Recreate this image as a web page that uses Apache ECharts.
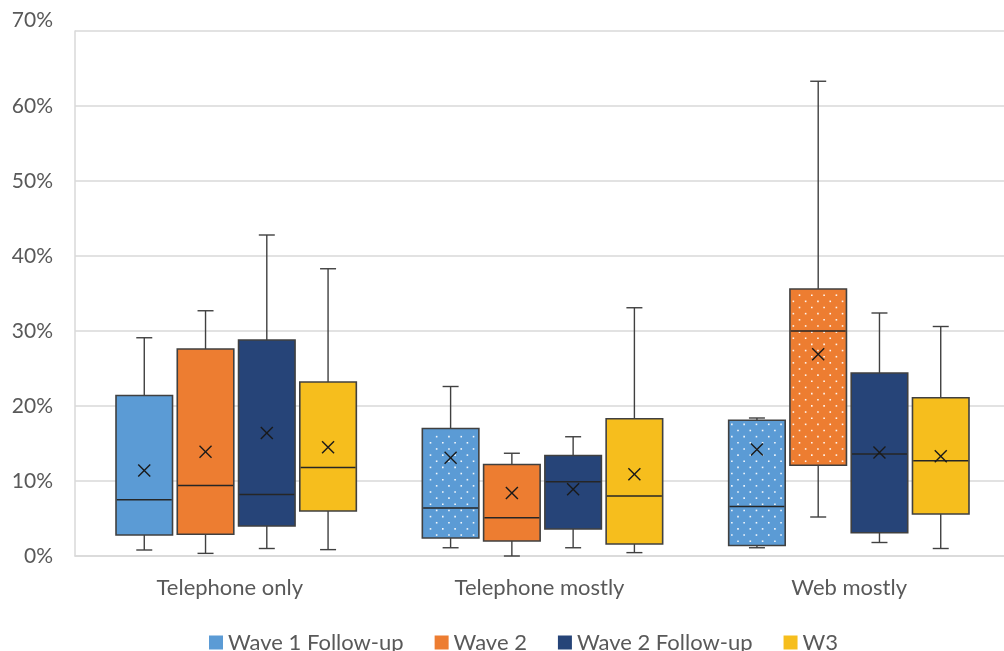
<!DOCTYPE html>
<html>
<head>
<meta charset="utf-8">
<title>Box plots by mode and wave</title>
<script src="https://cdn.jsdelivr.net/npm/echarts@6/dist/echarts.min.js"></script>
<style>
  html, body { margin: 0; padding: 0; background: #ffffff; }
  #chart { width: 1004px; height: 651px; }
</style>
</head>
<body>
<div id="chart"></div>
<script>
// Categories along the x axis
const categories = ['Telephone only', 'Telephone mostly', 'Web mostly'];
const seriesNames = ['Wave 1 Follow-up', 'Wave 2', 'Wave 2 Follow-up', 'W3'];
const yTicks = [0, 10, 20, 30, 40, 50, 60, 70];

// Five-number summaries in percent: [min, q1, median, q3, max] per category
const wave1Follow = [[0.8, 2.8, 7.5, 21.4, 29.1], [1.1, 2.4, 6.4, 17.0, 22.6], [1.1, 1.4, 6.6, 18.1, 18.4]];
const wave2       = [[0.35, 2.9, 9.4, 27.6, 32.7], [0.0, 2.0, 5.1, 12.2, 13.7], [5.2, 12.1, 30.0, 35.6, 63.3]];
const wave2Follow = [[1.0, 4.0, 8.2, 28.8, 42.8], [1.1, 3.6, 9.9, 13.4, 15.9], [1.8, 3.1, 13.6, 24.4, 32.4]];
const w3          = [[0.85, 6.0, 11.8, 23.2, 38.3], [0.45, 1.6, 8.0, 18.3, 33.1], [1.0, 5.6, 12.7, 21.1, 30.6]];

// Means in percent per category
const wave1FollowMean = [11.4, 13.1, 14.2];
const wave2Mean       = [13.9, 8.4, 26.9];
const wave2FollowMean = [16.4, 8.9, 13.8];
const w3Mean          = [14.5, 10.9, 13.3];

// Which boxes carry the dotted fill
const wave1FollowDotted = [false, true, true];
const wave2Dotted       = [false, false, true];
const wave2FollowDotted = [false, false, false];
const w3Dotted          = [false, false, false];

const colors = ['#5B9BD5', '#ED7D31', '#264478', '#F6BE1D'];
const FONT = 'Lato, "Open Sans", sans-serif';
const TEXT = '#595959';
const GRID_LINE = '#D9D9D9';

const summaries = [wave1Follow, wave2, wave2Follow, w3];
const means = [wave1FollowMean, wave2Mean, wave2FollowMean, w3Mean];
const dotted = [wave1FollowDotted, wave2Dotted, wave2FollowDotted, w3Dotted];

function buildData(s) {
  return categories.map((c, i) => [i].concat(summaries[s][i], [means[s][i], dotted[s][i] ? 1 : 0]));
}

function makeRenderer(slot) {
  return function (params, api) {
    const cat = api.value(0);
    const band = api.size([1, 0])[0];
    const cx = api.coord([cat, 0])[0] + (slot - 1.5) * band * 0.2;
    const w = band * 0.1845;
    const y = (v) => api.coord([cat, v])[1];
    const yMin = y(api.value(1)), yQ1 = y(api.value(2)), yMed = y(api.value(3));
    const yQ3 = y(api.value(4)), yMax = y(api.value(5)), yMean = y(api.value(6));
    const isDotted = api.value(7) === 1;
    const left = cx - w / 2, right = cx + w / 2;
    const cap = 8;
    const stroke = '#404040';
    const children = [];
    const line = (x1, y1, x2, y2, color, lw) => ({
      type: 'line',
      shape: { x1, y1, x2, y2 },
      style: { stroke: color, lineWidth: lw }
    });
    // whiskers and caps
    children.push(line(cx, yMax, cx, yQ3, stroke, 1.4));
    children.push(line(cx, yQ1, cx, yMin, stroke, 1.4));
    children.push(line(cx - cap, yMax, cx + cap, yMax, stroke, 1.4));
    children.push(line(cx - cap, yMin, cx + cap, yMin, stroke, 1.4));
    // box
    children.push({
      type: 'rect',
      shape: { x: left, y: yQ3, width: w, height: yQ1 - yQ3 },
      style: { fill: colors[slot], stroke: stroke, lineWidth: 1.6 }
    });
    // staggered dotted fill, tiled from a fixed origin
    if (isDotted) {
      const sx = 12.3, sy = 6.15;
      const rowStart = Math.ceil((yQ3 + 2.5) / sy);
      for (let r = rowStart; r * sy < yQ1 - 2.5; r++) {
        const yy = r * sy;
        const shift = (r % 2) * sx / 2;
        const c0 = Math.ceil((left + 2.5 - shift) / sx);
        for (let c = c0; c * sx + shift < right - 2.5; c++) {
          const xx = c * sx + shift;
          children.push({
            type: 'rect',
            shape: { x: xx - 0.8, y: yy - 0.8, width: 1.6, height: 1.6 },
            style: { fill: 'rgba(255,255,255,0.92)' }
          });
        }
      }
    }
    // median
    children.push(line(left + 0.8, yMed, right - 0.8, yMed, '#262626', 1.6));
    // mean marker
    const m = 6;
    children.push(line(cx - m, yMean - m, cx + m, yMean + m, '#1A1A1A', 1.4));
    children.push(line(cx - m, yMean + m, cx + m, yMean - m, '#1A1A1A', 1.4));
    return { type: 'group', children };
  };
}

const chart = echarts.init(document.getElementById('chart'), null, { renderer: 'canvas' });

const option = {
  backgroundColor: '#ffffff',
  animation: false,
  textStyle: { fontFamily: FONT },
  legend: {
    data: seriesNames,
    top: 631,
    left: 209,
    padding: 0,
    icon: 'rect',
    itemWidth: 14,
    itemHeight: 14,
    itemGap: 31,
    textStyle: { color: TEXT, fontSize: 22, lineHeight: 23, fontFamily: FONT }
  },
  grid: [
    { left: 75, top: 31, width: 940, height: 525 },
    { left: 83, top: 31, width: 919, height: 525 }
  ],
  xAxis: [
    {
      type: 'category',
      gridIndex: 0,
      data: categories,
      axisLine: { show: true, lineStyle: { color: GRID_LINE, width: 1.5 } },
      axisTick: { show: false },
      axisLabel: { color: TEXT, fontSize: 22, margin: 21, fontFamily: FONT },
      splitLine: { show: false }
    },
    {
      type: 'category',
      gridIndex: 1,
      data: categories,
      show: false
    }
  ],
  yAxis: [
    {
      type: 'value',
      gridIndex: 0,
      min: yTicks[0],
      max: yTicks[yTicks.length - 1],
      interval: 10,
      axisLine: { show: true, lineStyle: { color: GRID_LINE, width: 1.5 } },
      axisTick: { show: false },
      axisLabel: {
        color: TEXT,
        fontSize: 21,
        margin: 22,
        fontFamily: FONT,
        // the topmost label sits a little above its gridline
        formatter: (v) => (v === yTicks[yTicks.length - 1] ? '{top|' + v + '%}' : v + '%'),
        rich: { top: { color: TEXT, fontSize: 21, fontFamily: FONT, padding: [0, 0, 22, 0] } }
      },
      splitLine: { show: true, lineStyle: { color: GRID_LINE, width: 1.5 } }
    },
    {
      type: 'value',
      gridIndex: 1,
      min: yTicks[0],
      max: yTicks[yTicks.length - 1],
      show: false,
      splitLine: { show: false }
    }
  ],
  series: seriesNames.map((name, s) => ({
    name,
    type: 'custom',
    xAxisIndex: 1,
    yAxisIndex: 1,
    itemStyle: { color: colors[s] },
    renderItem: makeRenderer(s),
    encode: { x: 0, y: [1, 2, 3, 4, 5, 6] },
    data: buildData(s)
  }))
};

chart.setOption(option);
</script>
</body>
</html>
